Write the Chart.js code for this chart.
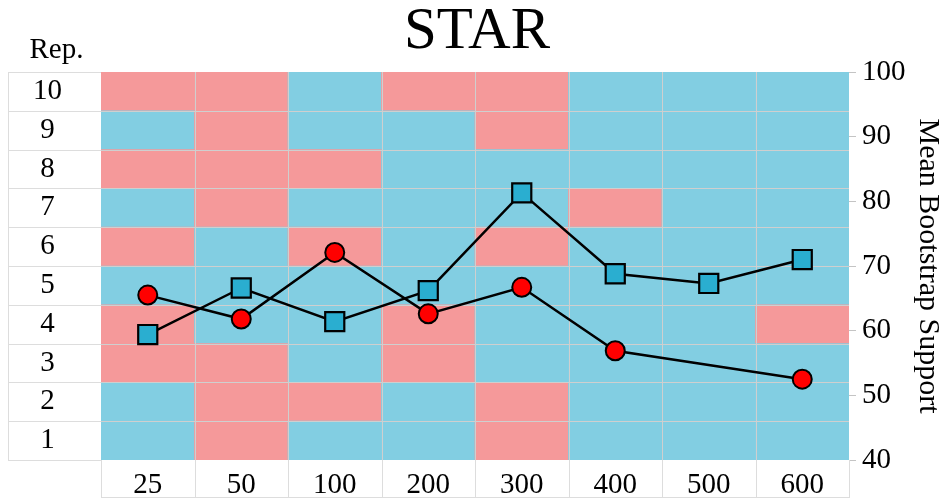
<!DOCTYPE html>
<html>
<head>
<meta charset="utf-8">
<script src="https://cdn.jsdelivr.net/npm/chart.js@4"></script>
<style>
  html, body { margin: 0; padding: 0; background: #ffffff; }
  canvas { display: block; }
</style>
</head>
<body>
<canvas id="c" width="946" height="501"></canvas>
<script>
// ---- data ----
const sizes = ['25', '50', '100', '200', '300', '400', '500', '600'];
const repLabels = ['1', '2', '3', '4', '5', '6', '7', '8', '9', '10'];
// 1 = pink cell, 0 = blue cell; one array per replicate (rep 1 .. rep 10), columns follow `sizes`
const rep1  = [0, 1, 0, 0, 1, 0, 0, 0];
const rep2  = [0, 1, 1, 0, 1, 0, 0, 0];
const rep3  = [1, 1, 0, 1, 0, 0, 0, 0];
const rep4  = [1, 0, 0, 1, 0, 0, 0, 1];
const rep5  = [0, 0, 0, 0, 0, 0, 0, 0];
const rep6  = [1, 0, 1, 0, 1, 0, 0, 0];
const rep7  = [0, 1, 0, 0, 0, 1, 0, 0];
const rep8  = [1, 1, 1, 0, 0, 0, 0, 0];
const rep9  = [0, 1, 0, 0, 1, 0, 0, 0];
const rep10 = [1, 1, 0, 1, 1, 0, 0, 0];
const repRows = [rep1, rep2, rep3, rep4, rep5, rep6, rep7, rep8, rep9, rep10];
// mean bootstrap support series
const circleSeries = [65.5, 61.8, 72.1, 62.6, 66.7, 56.9, null, 52.5];
const squareSeries = [59.4, 66.6, 61.4, 66.2, 81.3, 68.8, 67.3, 71.0];
const supportTicks = { min: 40, max: 100, step: 10 };

// ---- styles ----
const PINK = '#F5999A';
const BLUE = '#82CEE2';
const SERIF = '"Liberation Serif", "Times New Roman", serif';

const lineDatasets = [
  {
    type: 'line', label: 'circles', data: circleSeries, yAxisID: 'y2', spanGaps: true,
    borderColor: '#000', borderWidth: 2.5, tension: 0,
    pointStyle: 'circle', pointRadius: 9.5, pointBorderWidth: 2,
    pointBackgroundColor: '#FF0000', pointBorderColor: '#000'
  },
  {
    type: 'line', label: 'squares', data: squareSeries, yAxisID: 'y2',
    borderColor: '#000', borderWidth: 2.5, tension: 0,
    pointStyle: 'rect', pointRadius: 13.5, pointBorderWidth: 2.2,
    pointBackgroundColor: '#2AAED0', pointBorderColor: '#000'
  }
];

const barDatasets = repRows.map((row, r) => ({
  type: 'bar', label: 'rep ' + repLabels[r], yAxisID: 'y',
  data: row.map(() => [r, r + 1]),
  backgroundColor: row.map(v => v ? PINK : BLUE),
  borderWidth: 0, grouped: false, barPercentage: 1, categoryPercentage: 1
}));

const tablePlugin = {
  id: 'tablePlugin',
  afterDatasetDraw(chart, args) {
    if (args.index !== lineDatasets.length) return; // last bar dataset drawn
    const { ctx, chartArea: a, scales } = chart;
    ctx.save();
    ctx.strokeStyle = '#CFCFCF';
    ctx.lineWidth = 1;
    ctx.beginPath();
    for (let i = 1; i < repLabels.length; i++) {
      const y = Math.round(scales.y.getPixelForValue(i)) + 0.5;
      ctx.moveTo(a.left, y); ctx.lineTo(a.right, y);
    }
    for (let i = 1; i < sizes.length; i++) {
      const x = Math.round((scales.x.getPixelForValue(i - 1) + scales.x.getPixelForValue(i)) / 2) + 0.5;
      ctx.moveTo(x, a.top); ctx.lineTo(x, a.bottom);
    }
    ctx.stroke();
    ctx.restore();
  },
  afterDraw(chart) {
    const { ctx, chartArea: a, scales } = chart;
    const leftEdge = scales.y.left;
    const bottomEdge = scales.x.bottom;
    ctx.save();
    ctx.strokeStyle = '#DDDDDD';
    ctx.lineWidth = 1;
    ctx.beginPath();
    // left "Rep." column
    for (let i = 0; i <= repLabels.length; i++) {
      const y = Math.round(scales.y.getPixelForValue(i)) + 0.5;
      ctx.moveTo(leftEdge, y); ctx.lineTo(a.left, y);
    }
    ctx.moveTo(leftEdge + 0.5, a.top); ctx.lineTo(leftEdge + 0.5, a.bottom);
    // bottom size row
    for (let i = 0; i <= sizes.length; i++) {
      let x;
      if (i === 0) x = a.left;
      else if (i === sizes.length) x = a.right;
      else x = (scales.x.getPixelForValue(i - 1) + scales.x.getPixelForValue(i)) / 2;
      x = Math.round(x) + 0.5;
      ctx.moveTo(x, a.bottom); ctx.lineTo(x, bottomEdge);
    }
    ctx.moveTo(a.left, bottomEdge - 0.5); ctx.lineTo(a.right, bottomEdge - 0.5);
    ctx.stroke();
    // header of the replicate column
    ctx.fillStyle = '#000';
    ctx.font = '29px ' + SERIF;
    ctx.textAlign = 'center';
    ctx.textBaseline = 'alphabetic';
    ctx.fillText('Rep.', (leftEdge + a.left) / 2 + 2, 58);
    ctx.restore();
  }
};

new Chart(document.getElementById('c'), {
  type: 'bar',
  data: { labels: sizes, datasets: [...lineDatasets, ...barDatasets] },
  options: {
    responsive: false,
    animation: false,
    layout: { padding: { left: 8, right: 0, top: 0, bottom: 3 } },
    plugins: {
      legend: { display: false },
      tooltip: { enabled: false },
      title: {
        display: true, text: 'STAR', color: '#000',
        font: { family: SERIF, size: 59, weight: 'normal', lineHeight: 1 },
        padding: { top: 2.5, bottom: 10.5 }
      }
    },
    scales: {
      x: {
        type: 'category', offset: true,
        grid: { display: false }, border: { display: false },
        ticks: { color: '#000', font: { family: SERIF, size: 29 }, padding: 0, maxRotation: 0, autoSkip: false },
        afterFit(scale) { scale.height = 38; }
      },
      y: {
        type: 'linear', position: 'left', min: 0, max: repLabels.length,
        grid: { display: false }, border: { display: false },
        afterBuildTicks(scale) { scale.ticks = repLabels.map((_, i) => ({ value: i + 0.5 })); },
        ticks: {
          color: '#000', font: { family: SERIF, size: 29 }, crossAlign: 'center', padding: 31, autoSkip: false,
          callback: (v, i) => repLabels[i]
        },
        afterFit(scale) { scale.width = 93; scale.paddingTop = 0; scale.paddingBottom = 0; }
      },
      y2: {
        type: 'linear', position: 'right', min: supportTicks.min, max: supportTicks.max,
        grid: { drawOnChartArea: false, tickLength: 7, color: '#C4C4C4' }, border: { display: false },
        ticks: { stepSize: supportTicks.step, color: '#000', font: { family: SERIF, size: 29 }, padding: 6 },
        title: {
          display: true, text: 'Mean Bootstrap Support', color: '#000',
          font: { family: SERIF, size: 30 }, padding: 0
        },
        afterFit(scale) { scale.width = 97; }
      }
    }
  },
  plugins: [tablePlugin]
});
</script>
</body>
</html>
